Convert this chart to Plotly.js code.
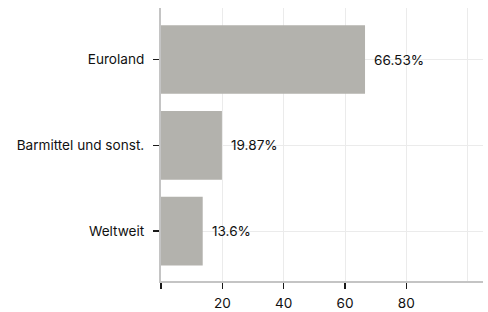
<!DOCTYPE html>
<html>
<head>
<meta charset="utf-8">
<script src="https://cdn.plot.ly/plotly-3.0.1.min.js"></script>
<style>html,body{margin:0;padding:0;background:#fff;}#chart{width:488px;height:312px;}</style>
</head>
<body>
<div id="chart"></div>
<script>
var categories = ['Euroland', 'Barmittel und sonst.', 'Weltweit'];
var values = [66.53, 19.87, 13.6];
var xTickValues = [0, 20, 40, 60, 80];
var xTickLabels = ['', '20', '40', '60', '80'];

var labels = values.map(function (v) { return v + '%'; });

var trace = {
  type: 'bar',
  orientation: 'h',
  y: categories,
  x: values,
  marker: { color: '#b3b2ad' },
  hoverinfo: 'none'
};

var annotations = values.map(function (v, i) {
  return {
    x: v, y: categories[i], xref: 'x', yref: 'y',
    text: labels[i], showarrow: false, xanchor: 'left', yanchor: 'middle',
    xshift: 7, font: { family: 'Inter, sans-serif', size: 13.6, color: '#111111' }
  };
});

var layout = {
  width: 488, height: 312,
  margin: { l: 161, r: 5, t: 8, b: 31 },
  paper_bgcolor: '#ffffff', plot_bgcolor: '#ffffff',
  font: { family: 'Inter, sans-serif', size: 13.6, color: '#111111' },
  showlegend: false,
  bargap: 0.2,
  xaxis: {
    range: [0, 105],
    tickvals: xTickValues, ticktext: xTickLabels,
    ticks: 'outside', ticklen: 6, tickwidth: 1.5, tickcolor: '#1a1a1a',
    showline: true, linecolor: '#c4c4c4', linewidth: 2,
    showgrid: true, gridcolor: '#ebebeb', gridwidth: 1,
    zeroline: false,
    ticklabelstandoff: 3,
    minor: { tickvals: [100], showgrid: true, gridcolor: '#ebebeb', ticks: '' },
    fixedrange: true
  },
  yaxis: {
    type: 'category',
    categoryorder: 'array', categoryarray: categories,
    range: [2.58, -0.6],
    ticks: 'outside', ticklen: 6, tickwidth: 1.5, tickcolor: '#1a1a1a',
    showline: true, linecolor: '#c4c4c4', linewidth: 2,
    showgrid: true, gridcolor: '#ebebeb', gridwidth: 1,
    zeroline: false,
    ticklabelstandoff: 6,
    fixedrange: true
  },
  annotations: annotations
};

Plotly.newPlot('chart', [trace], layout, { displayModeBar: false, staticPlot: true });
</script>
</body>
</html>
